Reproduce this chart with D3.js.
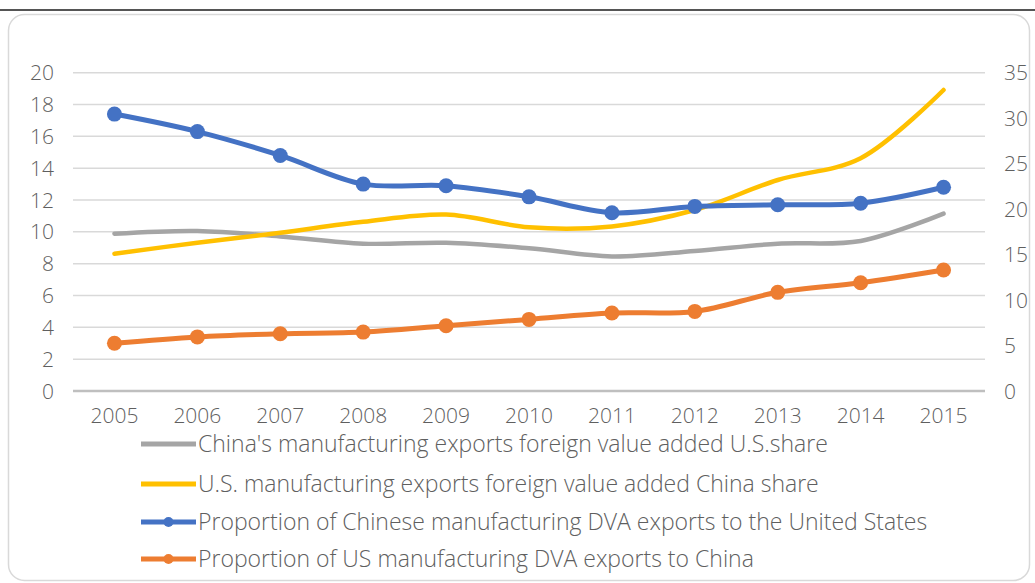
<!DOCTYPE html>
<html>
<head>
<meta charset="utf-8">
<script src="https://cdn.jsdelivr.net/npm/d3@7"></script>
<style>
  html, body { margin: 0; padding: 0; background: #fff; }
  svg { display: block; }
  text { font-family: "Open Sans", "Noto Sans", sans-serif; fill: #5f5f5f; font-weight: 300; }
</style>
</head>
<body>
<svg id="chart" width="1035" height="583"></svg>
<script>
// Years on the category axis
const years = ["2005","2006","2007","2008","2009","2010","2011","2012","2013","2014","2015"];

// Left-axis series (per cent)
const cnDvaToUs = [17.4, 16.3, 14.8, 13.0, 12.9, 12.2, 11.2, 11.6, 11.7, 11.8, 12.8];
const usDvaToCn = [3.0, 3.4, 3.6, 3.7, 4.1, 4.5, 4.9, 5.0, 6.2, 6.8, 7.6];

// Right-axis series (per cent)
const cnFvaUsShare = [17.3, 17.6, 17.0, 16.2, 16.3, 15.7, 14.8, 15.4, 16.2, 16.5, 19.5];
const usFvaCnShare = [15.1, 16.3, 17.4, 18.6, 19.4, 18.0, 18.1, 19.9, 23.2, 25.6, 33.1];

// Tick labels
const leftTicks = [0, 2, 4, 6, 8, 10, 12, 14, 16, 18, 20];
const rightTicks = [0, 5, 10, 15, 20, 25, 30, 35];

const legendLabels = [
  "China's manufacturing exports foreign value added U.S.share",
  "U.S. manufacturing exports foreign value added China share",
  "Proportion of Chinese manufacturing DVA exports to the United States",
  "Proportion of US manufacturing DVA exports to China"
];

const svg = d3.select("#chart");

// page rule and rounded chart frame
svg.append("line").attr("x1", 0).attr("x2", 1035).attr("y1", 10).attr("y2", 10)
  .attr("stroke", "#555").attr("stroke-width", 2);
svg.append("rect").attr("x", 8.5).attr("y", 14.5).attr("width", 1021).attr("height", 566)
  .attr("rx", 16).attr("fill", "#fff").attr("stroke", "#d9d9d9").attr("stroke-width", 1.5);

const plot = { left: 73, right: 985, top: 72.7, bottom: 391 };

const x = d3.scaleBand().domain(years).range([plot.left, plot.right]);
const cx = d => x(d) + x.bandwidth() / 2;
const yL = d3.scaleLinear().domain([0, 20]).range([plot.bottom, plot.top]);
const yR = d3.scaleLinear().domain([0, 35]).range([plot.bottom, plot.top]);

// horizontal gridlines
svg.append("g").selectAll("line").data(leftTicks.filter(t => t > 0)).join("line")
  .attr("x1", plot.left).attr("x2", plot.right)
  .attr("y1", d => yL(d)).attr("y2", d => yL(d))
  .attr("stroke", "#d9d9d9").attr("stroke-width", 1.5);
svg.append("line").attr("x1", plot.left).attr("x2", plot.right)
  .attr("y1", yL(0)).attr("y2", yL(0))
  .attr("stroke", "#bfbfbf").attr("stroke-width", 2.5);

// left axis labels
const fs = 21;
svg.append("g").selectAll("text").data(leftTicks).join("text")
  .attr("x", 54).attr("y", d => yL(d)).attr("dy", "0.36em")
  .attr("text-anchor", "end").attr("font-size", fs).text(d => d);

// right axis labels
svg.append("g").selectAll("text").data(rightTicks).join("text")
  .attr("x", 1004).attr("y", d => yR(d)).attr("dy", "0.36em")
  .attr("text-anchor", "start").attr("font-size", fs).text(d => d);

// category labels
svg.append("g").selectAll("text").data(years).join("text")
  .attr("x", d => cx(d)).attr("y", 415).attr("dy", "0.36em")
  .attr("text-anchor", "middle").attr("font-size", fs).text(d => d);

const curve = d3.curveCatmullRom.alpha(0.5);

function drawLine(values, yScale, color, width) {
  const line = d3.line().x((d, i) => cx(years[i])).y(d => yScale(d)).curve(curve);
  svg.append("path").datum(values).attr("d", line)
    .attr("fill", "none").attr("stroke", color).attr("stroke-width", width)
    .attr("stroke-linecap", "round").attr("stroke-linejoin", "round");
}
function drawMarkers(values, yScale, color) {
  svg.append("g").selectAll("circle").data(values).join("circle")
    .attr("cx", (d, i) => cx(years[i])).attr("cy", d => yScale(d))
    .attr("r", 7.5).attr("fill", color);
}

const colors = ["#A5A5A5", "#FFC000", "#4472C4", "#ED7D31"];

drawLine(cnFvaUsShare, yR, colors[0], 4.5);
drawLine(usFvaCnShare, yR, colors[1], 4.5);
drawLine(cnDvaToUs, yL, colors[2], 5);
drawMarkers(cnDvaToUs, yL, colors[2]);
drawLine(usDvaToCn, yL, colors[3], 5);
drawMarkers(usDvaToCn, yL, colors[3]);

// legend
const legY = [444, 484, 522, 559];
const leg = svg.append("g");
legendLabels.forEach((label, i) => {
  const g = leg.append("g").attr("transform", `translate(0,${legY[i]})`);
  g.append("line").attr("x1", 141).attr("x2", 196).attr("y1", 0).attr("y2", 0)
    .attr("stroke", colors[i]).attr("stroke-width", 5);
  if (i >= 2) {
    g.append("circle").attr("cx", 168.5).attr("cy", 0).attr("r", 5).attr("fill", colors[i]);
  }
  g.append("text").attr("x", 198).attr("y", 0).attr("dy", "0.36em")
    .attr("font-size", 23).text(label);
});
</script>
</body>
</html>
